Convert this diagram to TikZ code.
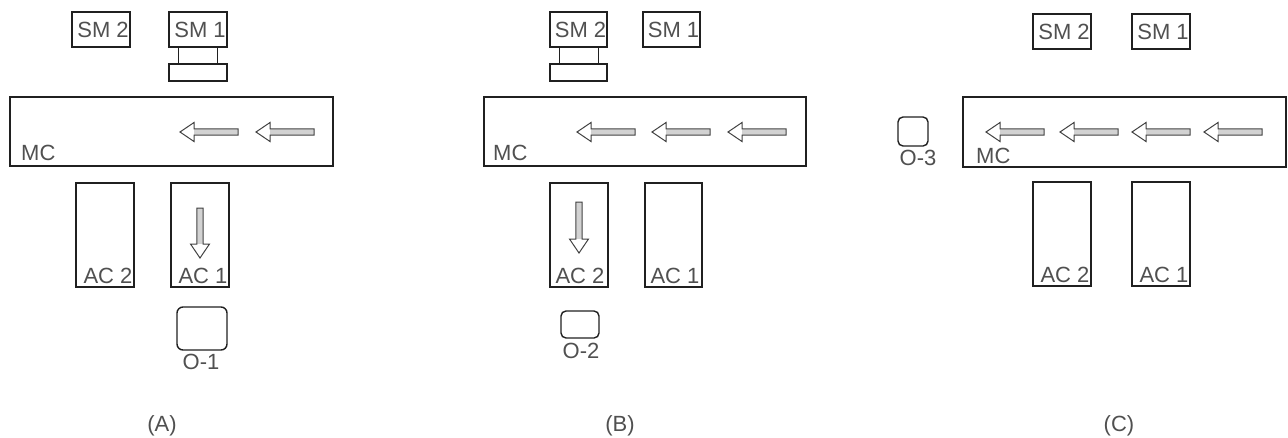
\documentclass[tikz,border=0pt]{standalone}
\usepackage{fontspec}
\setmainfont{Liberation Sans}
\begin{document}
\begin{tikzpicture}[x=1pt,y=-1pt,
  box/.style={draw=linecol, line width=1.4pt, inner sep=0pt, rectangle},
  rbox/.style={box, rounded corners=6pt},
  txt/.style={text=txtcol, font=\fontsize{22}{24}\selectfont, inner sep=0pt},
  leg/.style={draw=linecol, line width=1.5pt},
  alen/.store in=\alen, alen=58,
  hollowarrow/.pic={
    \fill[gray!35] (14,-3.2) rectangle (\alen,3.2);
    \draw[draw=linecol!85, line width=1pt, line join=miter]
      (0,0) -- (14,-9.5) -- (14,-3.2) -- (\alen,-3.2) -- (\alen,3.2) -- (14,3.2) -- (14,9.5) -- cycle;
  }]
\definecolor{linecol}{HTML}{202020}
\definecolor{txtcol}{HTML}{505050}
\useasboundingbox (0,0) rectangle (1288,437);

% ---------------- Panel A ----------------
\node[box, minimum width=58pt, minimum height=35pt] (sm2A) at (101,29.5) {};
\node[txt] (sm2Atx) at ([xshift=2pt]sm2A.center) {SM 2};
\node[box, minimum width=58pt, minimum height=35pt] (sm1A) at (198,29.5) {};
\node[txt] (sm1Atx) at ([xshift=2pt]sm1A.center) {SM 1};
\node[box, minimum width=58pt, minimum height=17pt] (plateA) at (198,72.5) {};
\draw[leg] ([xshift=10pt]sm1A.south west) -- ([xshift=10pt]plateA.north west);
\draw[leg] ([xshift=-10pt]sm1A.south east) -- ([xshift=-10pt]plateA.north east);
\node[box, minimum width=323pt, minimum height=69pt] (mcA) at (171.5,131.5) {};
\node[txt, anchor=base west] (mcAtx) at (21,160) {MC};
\pic at (180,132) {hollowarrow};
\pic at (256,132) {hollowarrow};
\node[box, minimum width=58pt, minimum height=104pt] (ac2A) at (105,235) {};
\node[txt, anchor=base] (ac2Atx) at (108,283) {AC 2};
\node[box, minimum width=58pt, minimum height=104pt] (ac1A) at (200,235) {};
\node[txt, anchor=base] (ac1Atx) at (203,283) {AC 1};
\pic[alen=50, rotate=90] at (200,258) {hollowarrow};
\node[rbox, minimum width=50pt, minimum height=43pt] (o1) at (202,328.5) {};
\node[txt, anchor=base] (o1tx) at (201,369) {O-1};
\node[txt] (capA) at (162,426) {(A)};

% ---------------- Panel B ----------------
\node[box, minimum width=57pt, minimum height=35pt] (sm2B) at (578.5,29.5) {};
\node[txt] (sm2Btx) at ([xshift=2pt]sm2B.center) {SM 2};
\node[box, minimum width=57pt, minimum height=35pt] (sm1B) at (671.5,29.5) {};
\node[txt] (sm1Btx) at ([xshift=2pt]sm1B.center) {SM 1};
\node[box, minimum width=57pt, minimum height=17pt] (plateB) at (578.5,72.5) {};
\draw[leg] ([xshift=10pt]sm2B.south west) -- ([xshift=10pt]plateB.north west);
\draw[leg] ([xshift=-9pt]sm2B.south east) -- ([xshift=-9pt]plateB.north east);
\node[box, minimum width=322pt, minimum height=69pt] (mcB) at (645,131.5) {};
\node[txt, anchor=base west] (mcBtx) at (493,160) {MC};
\pic at (577,132) {hollowarrow};
\pic at (652,132) {hollowarrow};
\pic at (728,132) {hollowarrow};
\node[box, minimum width=58pt, minimum height=104pt] (ac2B) at (579,235) {};
\node[txt, anchor=base] (ac2Btx) at (580,283) {AC 2};
\node[box, minimum width=57pt, minimum height=104pt] (ac1B) at (673.5,235) {};
\node[txt, anchor=base] (ac1Btx) at (675,283) {AC 1};
\pic[alen=51, rotate=90] at (579,253) {hollowarrow};
\node[rbox, rounded corners=5pt, minimum width=38pt, minimum height=27pt] (o2) at (580,324.5) {};
\node[txt, anchor=base] (o2tx) at (581,358) {O-2};
\node[txt] (capB) at (620,426) {(B)};

% ---------------- Panel C ----------------
\node[box, minimum width=58pt, minimum height=35pt] (sm2C) at (1062,31.5) {};
\node[txt] (sm2Ctx) at ([xshift=2pt]sm2C.center) {SM 2};
\node[box, minimum width=58pt, minimum height=35pt] (sm1C) at (1161,31.5) {};
\node[txt] (sm1Ctx) at ([xshift=2pt]sm1C.center) {SM 1};
\node[box, minimum width=323pt, minimum height=70pt] (mcC) at (1124.5,132) {};
\node[txt, anchor=base west] (mcCtx) at (976,163) {MC};
\pic at (986,132) {hollowarrow};
\pic at (1060,132) {hollowarrow};
\pic at (1132,132) {hollowarrow};
\pic at (1204,132) {hollowarrow};
\node[rbox, rounded corners=5pt, minimum width=30pt, minimum height=29pt] (o3) at (913,131.5) {};
\node[txt, anchor=base] (o3tx) at (918,165) {O-3};
\node[box, minimum width=58pt, minimum height=104pt] (ac2C) at (1062,234) {};
\node[txt, anchor=base] (ac2Ctx) at (1065,282) {AC 2};
\node[box, minimum width=58pt, minimum height=104pt] (ac1C) at (1161,234) {};
\node[txt, anchor=base] (ac1Ctx) at (1164,282) {AC 1};
\node[txt] (capC) at (1119,426) {(C)};
\end{tikzpicture}
\end{document}
